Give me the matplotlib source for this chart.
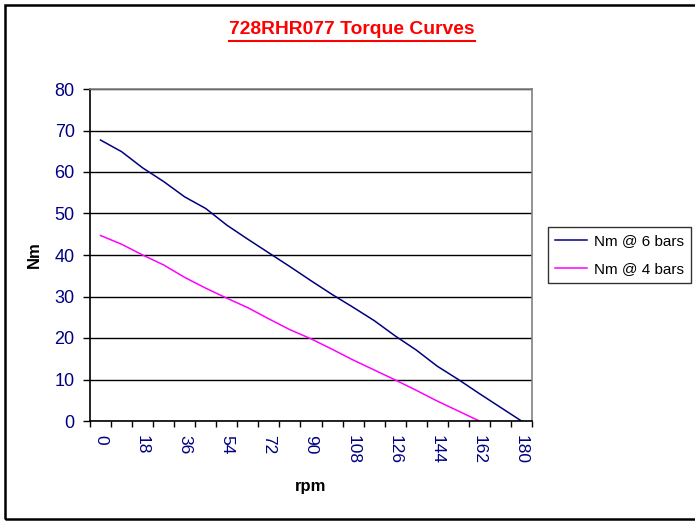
import numpy as np
import matplotlib
matplotlib.use('Agg')
import matplotlib.pyplot as plt
from matplotlib.lines import Line2D
from matplotlib.patches import Rectangle

# rpm categories (Excel category axis)
rpm = [0, 9, 18, 27, 36, 45, 54, 63, 72, 81, 90, 99, 108, 117, 126, 135, 144, 153, 162, 171, 180]

# torque values
nm_6bars = [67.7, 64.9, 61.0, 57.7, 54.0, 51.2, 47.2, 43.8, 40.5, 37.2, 33.8,
            30.5, 27.4, 24.2, 20.5, 17.1, 13.2, 10.0, 6.6, 3.3, 0.0]
nm_4bars = [44.7, 42.6, 40.0, 37.6, 34.6, 32.0, 29.6, 27.3, 24.6, 22.0, 19.8,
            17.3, 14.7, 12.3, 9.9, 7.4, 4.8, 2.4, 0.0, np.nan, np.nan]

plt.rcParams['font.family'] = ['Liberation Sans', 'DejaVu Sans']
label_color = '#000080'

fig = plt.figure(figsize=(6.95, 5.21), dpi=100)
ax = fig.add_axes([90 / 695, 100 / 521, 442 / 695, 332 / 521])

x = np.arange(len(rpm))
ax.plot(x, nm_6bars, color='#000080', lw=1.1, label='Nm @ 6 bars')
ax.plot(x, nm_4bars, color='#FF00FF', lw=1.1, label='Nm @ 4 bars')

ax.set_xlim(-0.5, len(rpm) - 0.5)
ax.set_ylim(0, 80)
ax.set_yticks(range(0, 81, 10))
ax.yaxis.grid(True, color='black', lw=1.0)
ax.set_axisbelow(True)

# tick marks between categories, labels on every other category
ax.set_xticks(np.arange(len(rpm) + 1) - 0.5)
ax.set_xticklabels([])
ax.set_xticks(x[::2], minor=True)
ax.set_xticklabels([str(r) for r in rpm[::2]], minor=True, rotation=270,
                   color=label_color, fontsize=12.5)
ax.tick_params(axis='x', which='minor', length=0, pad=10)
ax.tick_params(axis='x', which='major', length=4, width=1, direction='out')
ax.tick_params(axis='y', length=5, width=1, direction='out', pad=6,
               labelcolor=label_color, labelsize=13)

for s in ['top', 'right']:
    ax.spines[s].set_color('#808080')
    ax.spines[s].set_linewidth(1.2)
for s in ['left', 'bottom']:
    ax.spines[s].set_color('black')
    ax.spines[s].set_linewidth(1.2)

ax.set_xlabel('rpm', fontsize=12, fontweight='bold')
ax.set_ylabel('Nm', fontsize=12, fontweight='bold')
ax.xaxis.set_label_coords(0.5, (421 - 479) / 332)
ax.yaxis.set_label_coords((42 - 90) / 442, 0.5)

leg = ax.legend(loc='upper left', bbox_to_anchor=(548 / 695, 1 - 227 / 521),
                bbox_transform=fig.transFigure, fontsize=11, frameon=True, fancybox=False,
                edgecolor='black', handlelength=2.1, handletextpad=0.45, borderpad=0.45,
                labelspacing=0.95, borderaxespad=0)
leg.get_frame().set_linewidth(1.0)

# outer chart border
fig.patches.append(Rectangle((5 / 695, 2 / 521), 700 / 695, 514 / 521, transform=fig.transFigure,
                             fill=False, edgecolor='black', lw=1.8))

# underlined red title
title = fig.text(352 / 695, 1 - 30 / 521, '728RHR077 Torque Curves', color='#FF0000',
                 fontsize=13.9, fontweight='bold', ha='center', va='center')
fig.canvas.draw()
bb = title.get_window_extent().transformed(fig.transFigure.inverted())
fig.lines.append(Line2D([bb.x0, bb.x1], [bb.y0 - 0.004, bb.y0 - 0.004], transform=fig.transFigure,
                        color='#FF0000', lw=1.5))

fig.savefig('out.png', dpi=100)
